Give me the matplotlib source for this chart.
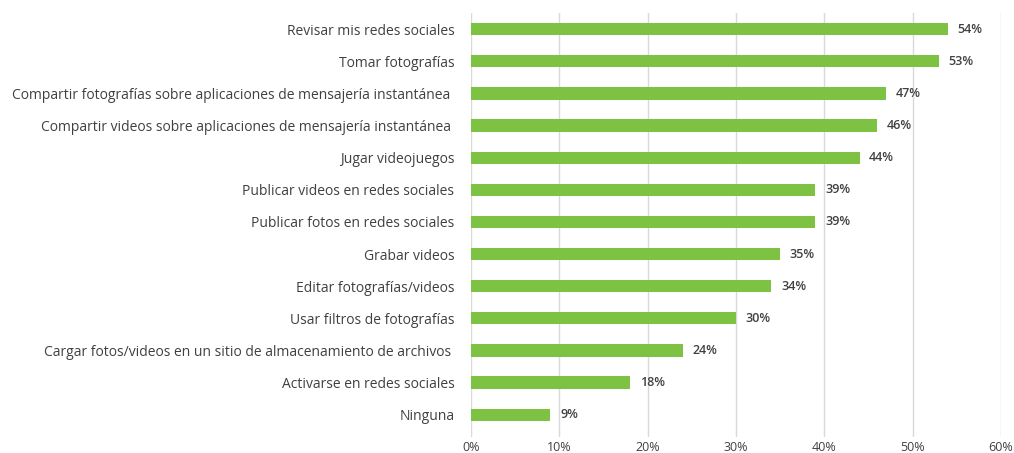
import matplotlib.pyplot as plt
import numpy as np

actividades = [
    "Revisar mis redes sociales",
    "Tomar fotografías",
    "Compartir fotografías sobre aplicaciones de mensajería instantánea ",
    "Compartir videos sobre aplicaciones de mensajería instantánea ",
    "Jugar videojuegos",
    "Publicar videos en redes sociales",
    "Publicar fotos en redes sociales",
    "Grabar videos",
    "Editar fotografías/videos",
    "Usar filtros de fotografías",
    "Cargar fotos/videos en un sitio de almacenamiento de archivos ",
    "Activarse en redes sociales",
    "Ninguna",
]
porcentajes = [54, 53, 47, 46, 44, 39, 39, 35, 34, 30, 24, 18, 9]
ticks = [0, 10, 20, 30, 40, 50, 60]

plt.rcParams['font.family'] = ['Open Sans', 'DejaVu Sans']

fig = plt.figure(figsize=(10.14, 4.53), dpi=100)
ax = fig.add_axes([0.4645, 0.035, 0.5225, 0.936])

y = np.arange(len(actividades))
ax.barh(y, porcentajes, height=0.38, color='#7dc242', zorder=3)
for yi, v in zip(y, porcentajes):
    ax.text(v + 1.1, yi, f"{v}%", va='center', ha='left', fontsize=9,
            color='#404040', fontweight='semibold')

ax.set_yticks(y)
ax.set_yticklabels(actividades, fontsize=10, color='#404040')
ax.set_ylim(len(actividades) - 0.5 + 0.2, -0.5)
ax.set_xlim(0, 60)
ax.set_xticks(ticks)
ax.set_xticklabels([f"{t}%" for t in ticks], fontsize=9, color='#404040')
ax.tick_params(axis='both', length=0)
ax.tick_params(axis='y', pad=12)
ax.tick_params(axis='x', pad=3)
ax.xaxis.grid(True, color='#d9d9d9', linewidth=1, zorder=0)
for s in ax.spines.values():
    s.set_visible(False)

fig.savefig('out.png', dpi=100)
